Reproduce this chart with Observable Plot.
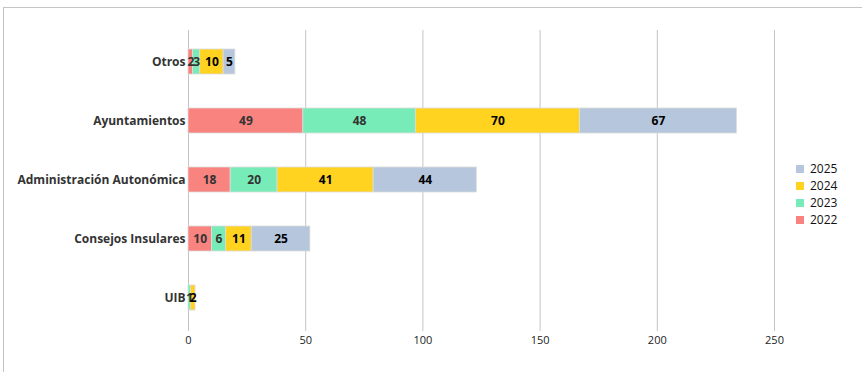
<!DOCTYPE html>
<html>
<head>
<meta charset="utf-8">
<script src="https://cdn.jsdelivr.net/npm/d3@7"></script>
<script src="https://cdn.jsdelivr.net/npm/@observablehq/plot@0.6"></script>
<style>
  html, body { margin: 0; padding: 0; background: #fff; }
  #wrap { position: relative; width: 862px; height: 372px; overflow: hidden; font-family: "Open Sans", sans-serif; }
  #frame { position: absolute; left: 3px; top: 7px; width: 900px; height: 400px; border-top: 1px solid #c4c4c4; border-left: 1px solid #c4c4c4; box-sizing: border-box; }
  #chart { position: absolute; left: 0; top: 0; }
  #legend { position: absolute; left: 796px; top: 160px; font-size: 12px; color: #111; }
  #legend .row { display: flex; align-items: center; height: 17px; }
  #legend .sw { width: 8px; height: 8px; margin-right: 6px; }
</style>
</head>
<body>
<div id="wrap">
  <div id="frame"></div>
  <div id="chart"></div>
  <div id="legend"></div>
</div>
<script>
const categories = ["Otros", "Ayuntamientos", "Administración Autonómica", "Consejos Insulares", "UIB"];
const years = ["2022", "2023", "2024", "2025"];
const v2022 = [2, 49, 18, 10, 0];
const v2023 = [3, 48, 20, 6, 1];
const v2024 = [10, 70, 41, 11, 2];
const v2025 = [5, 67, 44, 25, 0];
const colors = ["#F8837F", "#77ECB8", "#FFD320", "#B5C6DD"];
const labelColors = ["#333333", "#333333", "#000000", "#000000"];
const xTicks = [0, 50, 100, 150, 200, 250];

const series = [v2022, v2023, v2024, v2025];
const data = [];
years.forEach((yr, i) => {
  categories.forEach((c, j) => {
    data.push({cat: c, year: yr, value: series[i][j], order: i});
  });
});

const chart = Plot.plot({
  width: 862,
  height: 372,
  marginLeft: 188,
  marginRight: 88,
  marginTop: 30,
  marginBottom: 43,
  style: {fontFamily: "Open Sans, sans-serif", background: "transparent"},
  x: {domain: [0, 250]},
  y: {domain: categories, paddingInner: 0.58, paddingOuter: 0.29},
  color: {domain: years, range: colors},
  marks: [
    Plot.gridX(xTicks, {stroke: "#c4c4c4", strokeOpacity: 1}),
    Plot.axisX(xTicks, {tickSize: 2, tickPadding: 5, stroke: "#c4c4c4", fill: "#222", fontSize: 11, label: null, tickFormat: d => String(d)}),
    Plot.axisY({tickSize: 0, tickPadding: 3, fontSize: 12, fontWeight: "bold", fill: "#333", label: null}),
    Plot.barX(data, Plot.stackX({x: "value", y: "cat", fill: "year", order: "order", stroke: "#dcdcdc", strokeWidth: 0.8})),
    Plot.text(data, Plot.stackX({
      filter: d => d.value > 0,
      x: "value", y: "cat", z: "year", order: "order",
      text: d => String(d.value),
      fill: d => labelColors[d.order],
      fontSize: 12, fontWeight: "bold"
    }))
  ]
});
document.getElementById("chart").appendChild(chart);

const legend = document.getElementById("legend");
years.slice().reverse().forEach(yr => {
  const i = years.indexOf(yr);
  const row = document.createElement("div");
  row.className = "row";
  row.innerHTML = `<div class="sw" style="background:${colors[i]}"></div><span>${yr}</span>`;
  legend.appendChild(row);
});
</script>
</body>
</html>
